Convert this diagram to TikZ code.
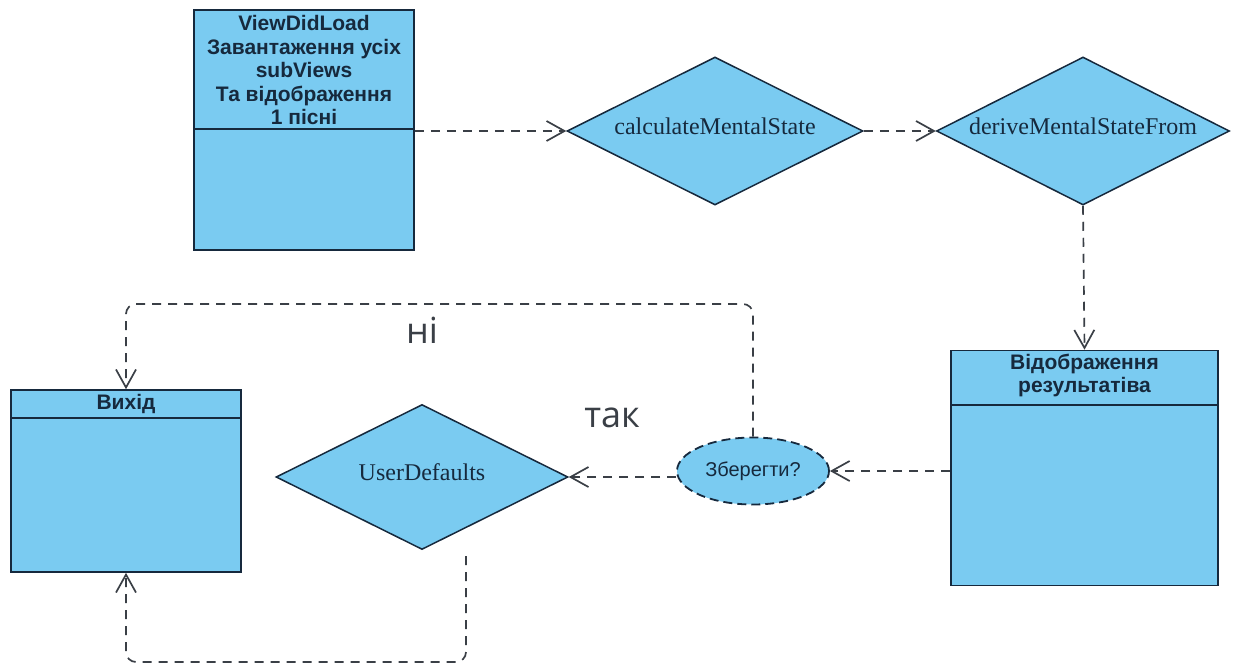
\documentclass[tikz,border=0pt]{standalone}
\usepackage{fontspec}
\setmainfont{Liberation Serif}
\setsansfont{Liberation Sans}
\newfontfamily\answerfont{Open Sans}
\usetikzlibrary{shapes.geometric,arrows.meta,positioning}
\definecolor{boxblue}{HTML}{7ACBF1}
\definecolor{edgegray}{HTML}{3A3F46}
\definecolor{textnavy}{HTML}{16293D}

\begin{document}
\begin{tikzpicture}[x=1pt,y=-1pt,
  classbox/.style={draw=textnavy, line width=1.6pt, fill=boxblue, inner sep=0pt},
  classline/.style={draw=textnavy, line width=1.6pt},
  boxtitle/.style={font=\sffamily\bfseries\fontsize{21}{23.5}\selectfont, text=textnavy, align=center, anchor=north, inner sep=0pt},
  method/.style={diamond, aspect=2, draw=textnavy, line width=1.5pt, fill=boxblue, inner sep=0pt, text height=0.68em, text depth=0pt, font=\fontsize{24}{26}\selectfont, text=textnavy},
  choice/.style={ellipse, draw=textnavy, dash pattern=on 9pt off 5pt, line width=1.8pt, fill=boxblue, inner sep=0pt, font=\sffamily\fontsize{20}{22}\selectfont, text=textnavy},
  flow/.style={draw=edgegray, dash pattern=on 9pt off 7pt, line width=1.7pt, -{Straight Barb[length=18pt,width=20pt,line width=1.7pt]}},
  answer/.style={font=\answerfont\fontsize{36}{40}\selectfont, text=edgegray, anchor=base}
]
\useasboundingbox (0,0) rectangle (1233,667);

% classes
\node[classbox, minimum width=220pt, minimum height=240pt] (load) at (304,130) {};
\node[boxtitle] (loadtitle) at ([yshift=-6pt]load.north) {ViewDidLoad\\Завантаження усіх\\subViews\\Та відображення\\1 пісні};
\draw[classline] ([yshift=-120pt]load.north west) -- ([yshift=-120pt]load.north east);

\node[classbox, minimum width=267pt, minimum height=235pt] (result) at (1084.5,468) {};
\node[boxtitle] (resulttitle) at ([yshift=-4pt]result.north) {Відображення\\результатіва};
\draw[classline] ([yshift=-55pt]result.north west) -- ([yshift=-55pt]result.north east);

\node[classbox, minimum width=230pt, minimum height=182pt] (exit) at (126,481) {};
\node[boxtitle] (exittitle) at ([yshift=-5pt]exit.north) {Вихід};
\draw[classline] ([yshift=-29pt]exit.north west) -- ([yshift=-29pt]exit.north east);

% methods
\node[method, minimum width=296pt, minimum height=148pt] (calc) at (715,131) {calculateMentalState};
\node[method, minimum width=293pt, minimum height=148pt] (derive) at (1083,131) {deriveMentalStateFrom};
\node[method, minimum width=292pt, minimum height=145pt] (defaults) at (422,477) {UserDefaults};
\node[choice, minimum width=152pt, minimum height=67pt] (save) at (753,471) {Зберегти?};

\node[answer] (no) at (422,343) {ні};
\node[answer] (yes) at (612,427) {так};
\coordinate (upline) at (0,304); % верхня петля
\coordinate (downline) at (0,662); % нижня петля
\coordinate (defaultsout) at (466,556);

\draw[flow] (load.east |- calc.west) -- (calc.west);
\draw[flow] (calc.east) -- (derive.west);
\draw[flow] (derive.south) -- (result.north);
\draw[flow] (result.west |- save.east) -- (save.east);
\draw[flow] (save.west |- defaults.east) -- (defaults.east);
\draw[flow, rounded corners=10pt] (save.north) |- (exit.north |- upline) -- (exit.north);
\draw[flow, rounded corners=10pt] (defaultsout) |- (exit.south |- downline) -- (exit.south);
\end{tikzpicture}
\end{document}
